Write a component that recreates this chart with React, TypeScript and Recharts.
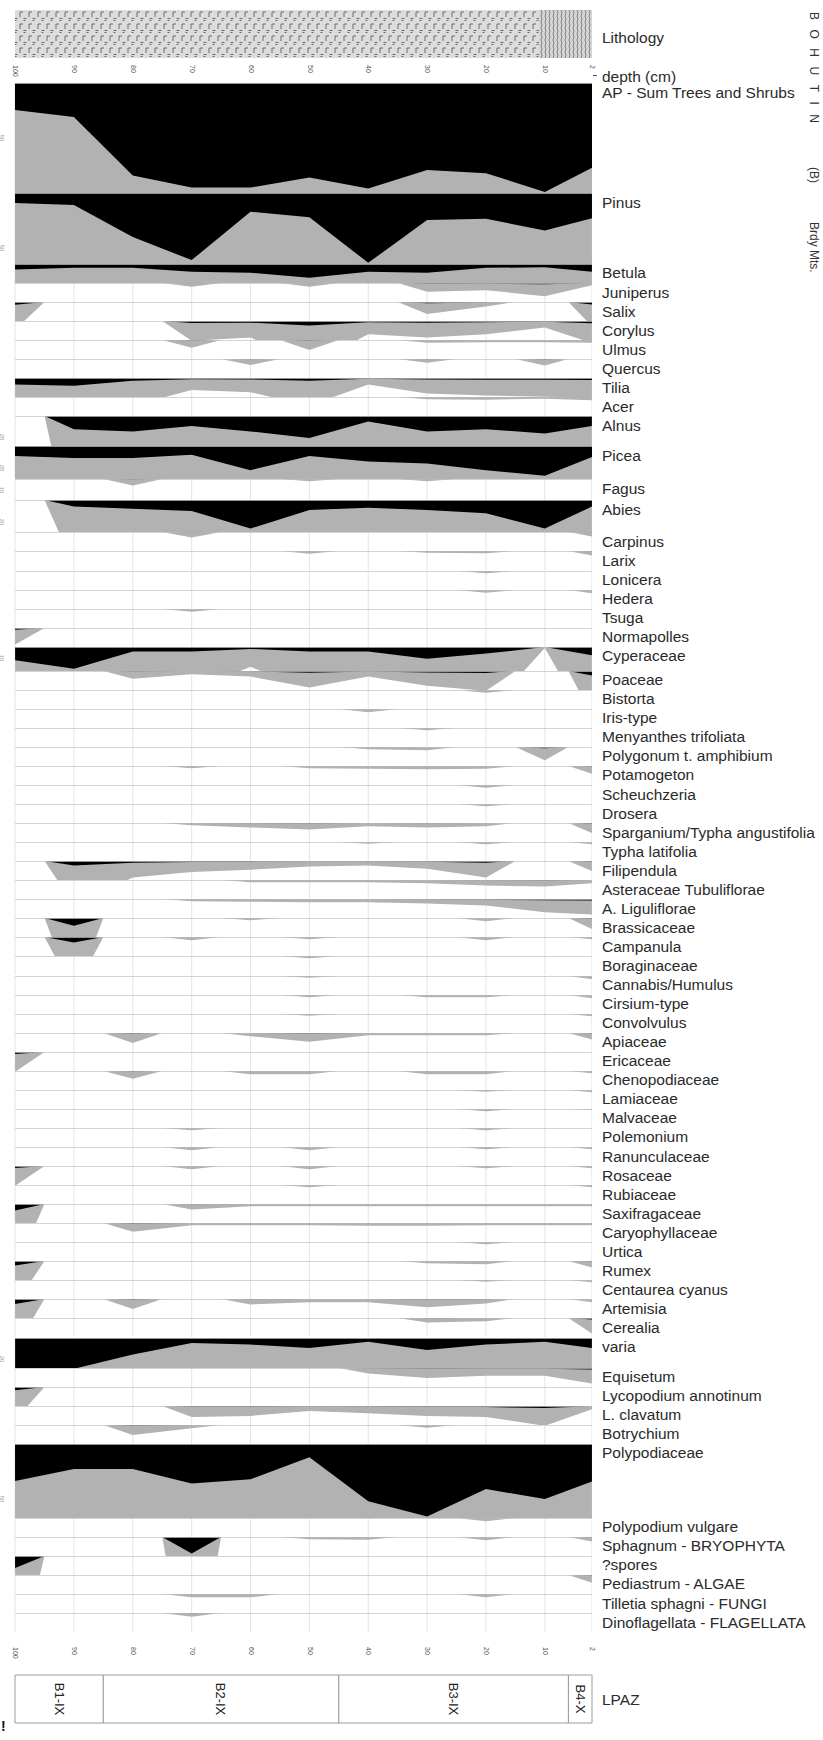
import React from "react";
import {
  AreaChart,
  Area,
  Line,
  ComposedChart,
  XAxis,
  YAxis,
  CartesianGrid,
  ReferenceLine,
  ReferenceArea,
  Label,
} from "recharts";

// sample depths (cm); deepest sample on the left
const DEPTHS = [100, 90, 80, 70, 60, 50, 40, 30, 20, 10, 2];

// percentages per sample, left to right
const AP_SUM = [24.5, 31, 84, 95, 95, 86, 96, 79, 82, 99, 77];
const PINUS = [9, 11, 40, 61, 17, 22, 63.5, 24.5, 23.5, 34, 23];
const BETULA = [5, 3.5, 3.5, 7, 8, 12.5, 7, 8, 3.5, 3, 7];
const JUNIPERUS = [0, 0, 0, 0.35, 0, 0.35, 0, 0.8, 0.65, 1.2, 0.2];
const SALIX = [2.5, 0, 0, 0, 0, 0, 0, 1.1, 0.4, 0, 2.2];
const CORYLUS = [0, 0, 0, 1.8, 1.5, 4, 1.2, 1.5, 1.2, 0.6, 2.0];
const ULMUS = [0, 0, 0, 0.7, 0, 0.9, 0, 0.25, 0.2, 0.2, 0.25];
const QUERCUS = [0, 0, 0, 0, 0.55, 0, 0, 0.35, 0, 0.6, 0];
const TILIA = [6, 7, 2.5, 1.1, 1.3, 2.5, 0.6, 1.4, 1.6, 1.7, 1.8];
const ACER = [0, 0, 0, 0, 0, 0, 0, 0.2, 0.25, 0.15, 0.3];
const ALNUS = [0, 12, 14, 9, 14, 20, 5, 14, 12, 16, 9];
const PICEA = [9, 11, 11, 8, 22, 9, 14, 16, 22, 27, 10];
const FAGUS = [0, 0, 0.6, 0, 0, 0.2, 0, 0.2, 0, 0, 0];
const ABIES = [0, 6, 8, 10, 26, 9, 7, 9, 12, 26, 6];
const CARPINUS = [0, 0, 0, 0.5, 0, 0, 0, 0, 0, 0, 0.4];
const LARIX = [0, 0, 0, 0, 0, 0.25, 0, 0.15, 0.2, 0, 0.4];
const LONICERA = [0, 0, 0, 0, 0, 0, 0, 0, 0.2, 0, 0];
const HEDERA = [0, 0, 0, 0, 0, 0, 0, 0, 0.25, 0, 0.3];
const TSUGA = [0, 0, 0, 0.25, 0, 0, 0, 0, 0, 0, 0];
const NORMAPOLLES = [1.5, 0, 0, 0, 0, 0, 0, 0, 0, 0, 0];
const CYPERACEAE = [12, 19.7, 4, 4, 1.8, 4, 4, 10.6, 6, 0.1, 7.5];
const POACEAE = [0, 0, 0.7, 0.3, 0.5, 1.5, 0.5, 1.35, 1.8, 0, 4];
const BISTORTA = [0, 0, 0, 0, 0, 0, 0, 0, 0.25, 0, 0];
const IRIS = [0, 0, 0, 0, 0, 0, 0.3, 0, 0, 0, 0];
const MENYANTHES = [0, 0, 0, 0, 0, 0, 0, 0.2, 0, 0, 0];
const POLYGONUM = [0, 0, 0, 0, 0, 0, 0.2, 0.3, 0, 1.2, 0];
const POTAMOGETON = [0, 0, 0, 0.2, 0, 0.2, 0.25, 0.3, 0.25, 0, 0.7];
const SCHEUCHZERIA = [0, 0, 0, 0, 0, 0, 0, 0, 0.25, 0, 0];
const DROSERA = [0, 0, 0, 0, 0, 0, 0, 0, 0.2, 0, 0];
const SPARGANIUM = [0, 0, 0, 0.2, 0.4, 0.6, 0.3, 0.4, 0.3, 0, 0.9];
const TYPHA_LAT = [0, 0, 0, 0, 0, 0, 0.15, 0, 0.2, 0, 0.2];
const FILIPENDULA = [0, 4, 1.5, 1, 0.8, 0.5, 0.4, 0.7, 1.5, 0, 0.9];
const ASTER_TUB = [0, 0, 0, 0, 0.2, 0.2, 0.2, 0.3, 0.5, 0.6, 0.3];
const ASTER_LIG = [0, 0, 0, 0.2, 0.25, 0.3, 0.3, 0.4, 0.6, 1.2, 1.4];
const BRASSICACEAE = [0, 7, 0, 0, 0.2, 0, 0, 0, 0.3, 0, 1.0];
const CAMPANULA = [0, 5, 0, 0.3, 0, 0.2, 0, 0, 0.3, 0, 0.2];
const BORAGINACEAE = [0, 0, 0, 0, 0, 0.2, 0, 0, 0, 0, 0];
const CANNABIS = [0, 0, 0, 0, 0, 0.15, 0, 0, 0, 0, 0.3];
const CIRSIUM = [0, 0, 0, 0, 0, 0.2, 0, 0.2, 0.2, 0, 0.3];
const CONVOLVULUS = [0, 0, 0, 0, 0, 0.15, 0, 0, 0, 0, 0.2];
const APIACEAE = [0, 0, 0.9, 0, 0.3, 0.8, 0.2, 0.2, 0.2, 0, 0.6];
const ERICACEAE = [1.8, 0, 0, 0, 0, 0, 0, 0, 0, 0, 0];
const CHENOPODIACEAE = [0, 0, 0.7, 0, 0.3, 0.3, 0, 0.3, 0.3, 0, 0.2];
const LAMIACEAE = [0, 0, 0, 0, 0, 0, 0, 0, 0.15, 0, 0.2];
const MALVACEAE = [0, 0, 0, 0, 0, 0, 0, 0, 0.2, 0, 0.1];
const POLEMONIUM = [0, 0, 0, 0.2, 0, 0, 0, 0, 0.2, 0, 0];
const RANUNCULACEAE = [0, 0, 0, 0.3, 0, 0.3, 0, 0, 0.2, 0, 0.2];
const ROSACEAE = [1.8, 0, 0, 0.3, 0, 0.3, 0, 0, 0.2, 0, 0.2];
const RUBIACEAE = [0, 0, 0, 0, 0, 0.2, 0, 0, 0, 0, 0.2];
const SAXIFRAGACEAE = [6, 0, 0, 0.5, 0.2, 0.2, 0.2, 0.2, 0.2, 0.2, 0.2];
const CARYOPHYLLACEAE = [0, 0, 0.8, 0.2, 0.2, 0.2, 0.25, 0.25, 0.2, 0.2, 0.2];
const URTICA = [0, 0, 0, 0, 0, 0, 0, 0, 0.2, 0, 0];
const RUMEX = [4, 0, 0, 0, 0, 0, 0, 0.2, 0.3, 0, 0.6];
const CENTAUREA = [0, 0, 0, 0, 0, 0, 0, 0, 0.15, 0, 0.2];
const ARTEMISIA = [4.5, 0, 0.9, 0, 0.5, 0.3, 0.3, 0.75, 0.4, 0, 0.3];
const CEREALIA = [0, 0, 0, 0, 0, 0, 0, 0.4, 0.3, 0, 1.4];
const VARIA = [28, 28, 15, 4.5, 6, 9, 3.5, 11, 6, 3.5, 9];
const EQUISETUM = [0, 0, 0, 0, 0, 0, 0.5, 0.9, 0.7, 0.7, 1.4];
const LYCO_ANNOTINUM = [3, 0, 0, 0, 0, 0, 0, 0, 0, 0, 0];
const LYCO_CLAVATUM = [0, 0, 0, 1.0, 0.9, 0.45, 0.65, 0.9, 1.0, 1.8, 0.3];
const BOTRYCHIUM = [0, 0, 0.9, 0.3, 0, 0, 0, 0.25, 0, 0, 0];
const POLYPODIACEAE = [33.6, 22.7, 22.7, 36, 32, 12, 52, 66, 41, 50, 34];
const POLYPODIUM = [0, 0, 0, 0, 0, 0, 0, 0, 0.3, 0, 0];
const SPHAGNUM = [0, 0, 0, 15, 0, 0.2, 0.25, 0, 0.3, 0, 0.4];
const SPORES = [11, 0, 0, 0, 0, 0, 0, 0, 0, 0, 0];
const PEDIASTRUM = [0, 0, 0, 0, 0, 0, 0, 0, 0, 0, 0.7];
const TILLETIA = [0, 0, 0, 0.3, 0.3, 0, 0, 0, 0.3, 0, 0];
const DINOFLAGELLATA = [0, 0, 0, 0.35, 0, 0, 0, 0, 0, 0, 0];

const TAXA: [string, number[]][] = [
  ["AP - Sum Trees and Shrubs", AP_SUM],
  ["Pinus", PINUS],
  ["Betula", BETULA],
  ["Juniperus", JUNIPERUS],
  ["Salix", SALIX],
  ["Corylus", CORYLUS],
  ["Ulmus", ULMUS],
  ["Quercus", QUERCUS],
  ["Tilia", TILIA],
  ["Acer", ACER],
  ["Alnus", ALNUS],
  ["Picea", PICEA],
  ["Fagus", FAGUS],
  ["Abies", ABIES],
  ["Carpinus", CARPINUS],
  ["Larix", LARIX],
  ["Lonicera", LONICERA],
  ["Hedera", HEDERA],
  ["Tsuga", TSUGA],
  ["Normapolles", NORMAPOLLES],
  ["Cyperaceae", CYPERACEAE],
  ["Poaceae", POACEAE],
  ["Bistorta", BISTORTA],
  ["Iris-type", IRIS],
  ["Menyanthes trifoliata", MENYANTHES],
  ["Polygonum t. amphibium", POLYGONUM],
  ["Potamogeton", POTAMOGETON],
  ["Scheuchzeria", SCHEUCHZERIA],
  ["Drosera", DROSERA],
  ["Sparganium/Typha angustifolia", SPARGANIUM],
  ["Typha latifolia", TYPHA_LAT],
  ["Filipendula", FILIPENDULA],
  ["Asteraceae Tubuliflorae", ASTER_TUB],
  ["A. Liguliflorae", ASTER_LIG],
  ["Brassicaceae", BRASSICACEAE],
  ["Campanula", CAMPANULA],
  ["Boraginaceae", BORAGINACEAE],
  ["Cannabis/Humulus", CANNABIS],
  ["Cirsium-type", CIRSIUM],
  ["Convolvulus", CONVOLVULUS],
  ["Apiaceae", APIACEAE],
  ["Ericaceae", ERICACEAE],
  ["Chenopodiaceae", CHENOPODIACEAE],
  ["Lamiaceae", LAMIACEAE],
  ["Malvaceae", MALVACEAE],
  ["Polemonium", POLEMONIUM],
  ["Ranunculaceae", RANUNCULACEAE],
  ["Rosaceae", ROSACEAE],
  ["Rubiaceae", RUBIACEAE],
  ["Saxifragaceae", SAXIFRAGACEAE],
  ["Caryophyllaceae", CARYOPHYLLACEAE],
  ["Urtica", URTICA],
  ["Rumex", RUMEX],
  ["Centaurea cyanus", CENTAUREA],
  ["Artemisia", ARTEMISIA],
  ["Cerealia", CEREALIA],
  ["varia", VARIA],
  ["Equisetum", EQUISETUM],
  ["Lycopodium annotinum", LYCO_ANNOTINUM],
  ["L. clavatum", LYCO_CLAVATUM],
  ["Botrychium", BOTRYCHIUM],
  ["Polypodiaceae", POLYPODIACEAE],
  ["Polypodium vulgare", POLYPODIUM],
  ["Sphagnum - BRYOPHYTA", SPHAGNUM],
  ["?spores", SPORES],
  ["Pediastrum - ALGAE", PEDIASTRUM],
  ["Tilletia sphagni - FUNGI", TILLETIA],
  ["Dinoflagellata - FLAGELLATA", DINOFLAGELLATA],
];

// lithology units and pollen zones (depth boundaries)
const LITHO_BOUNDS = [100, 11, 2];
const LITHO_FILL = ["url(#peat)", "url(#gyttja)"];
const ZONE_NAMES = ["B1-IX", "B2-IX", "B3-IX", "B4-X"];
const ZONE_BOUNDS = [100, 85, 45, 6, 2];

// scale (axis maximum, %) of the wider curves; the rest use SMALL_MAX
const ROW_MAX: Record<string, number> = {
  "AP - Sum Trees and Shrubs": 100,
  Pinus: 64.5,
  Alnus: 27.3,
  Picea: 30,
  Fagus: 19.1,
  Abies: 29.1,
  Cyperaceae: 21.8,
  varia: 27.3,
  Polypodiaceae: 67.3,
};
const SMALL_MAX = 17.32;
const PX = 1.1; // px per percent
const EXAG = 10;
const TOP = 83;
const PLOT_W = 592;
const AXIS_W = 15;
const FONT = "'Liberation Sans', Arial, sans-serif";

// curve closes halfway to a neighbouring empty sample
function silhouette(values: number[]) {
  const rows: { depth: number; v: number; ex: number }[] = [];
  values.forEach((v, i) => {
    if (i > 0 && (values[i - 1] === 0) !== (v === 0)) {
      rows.push({ depth: (DEPTHS[i - 1] + DEPTHS[i]) / 2, v: 0, ex: 0 });
    }
    rows.push({ depth: DEPTHS[i], v, ex: v * EXAG });
  });
  return rows;
}

// flat table used by the band strips (lithology, zones)
const bandData = DEPTHS.map((d) => ({ depth: d, band: 1 }));

const ScaleTick = (props: any) => {
  const { x, y, payload } = props;
  const tx = x - 7;
  return (
    <text x={tx} y={y} fontSize={6} fill="#9a9a9a" textAnchor="middle" transform={`rotate(90 ${tx} ${y})`} fontFamily={FONT}>
      {payload.value}
    </text>
  );
};

const DepthTick = (props: any) => {
  const { x, y, payload } = props;
  return (
    <text x={x} y={y + 1} fontSize={7} fill="#555" dominantBaseline="middle" transform={`rotate(90 ${x} ${y + 1})`} fontFamily={FONT}>
      {payload.value}
    </text>
  );
};

const TaxonRow = ({ values, max }: { values: number[]; max: number }) => {
  const tick = max >= 50 ? 50 : max >= 25 ? 20 : 10;
  return (
    <AreaChart width={PLOT_W} height={max * PX} data={silhouette(values)} margin={{ top: 0, right: 0, bottom: 0, left: 0 }}>
      <CartesianGrid horizontal={false} stroke="#e4e4e4" />
      <XAxis type="number" dataKey="depth" domain={[2, 100]} reversed ticks={DEPTHS} hide />
      <YAxis
        type="number"
        domain={[0, max]}
        reversed
        allowDataOverflow
        width={AXIS_W}
        ticks={[tick]}
        tick={<ScaleTick />}
        axisLine={false}
        tickLine={false}
      />
      <Area type="linear" dataKey="ex" baseValue={0} fill="#b2b2b2" fillOpacity={1} stroke="none" isAnimationActive={false} />
      <Area type="linear" dataKey="v" baseValue={0} fill="#000" fillOpacity={1} stroke="none" isAnimationActive={false} />
      <ReferenceLine y={0} stroke="#c6c6c6" strokeWidth={1.5} />
    </AreaChart>
  );
};

const DepthScale = () => (
  <ComposedChart width={PLOT_W + 10} height={24} data={bandData} margin={{ top: 0, right: 10, bottom: 0, left: AXIS_W }}>
    <XAxis
      type="number"
      dataKey="depth"
      domain={[2, 100]}
      reversed
      ticks={DEPTHS}
      height={20}
      axisLine={false}
      tickLine={false}
      tickSize={0}
      tickMargin={0}
      tick={<DepthTick />}
      interval={0}
    />
    <YAxis hide />
  </ComposedChart>
);

const Lithology = () => (
  <ComposedChart width={PLOT_W} height={48} data={bandData} margin={{ top: 0, right: 0, bottom: 0, left: AXIS_W }}>
    <defs>
      <pattern id="peat" width="9" height="12" patternUnits="userSpaceOnUse">
        <rect width="9" height="12" fill="#dcdcdc" />
        <path d="M2 2 v5 M2 2 h3 M5.5 8.5 h3 M5.5 10.5 h2" stroke="#5c5c5c" strokeWidth="0.9" fill="none" />
      </pattern>
      <pattern id="gyttja" width="4" height="6" patternUnits="userSpaceOnUse">
        <rect width="4" height="6" fill="#d6d6d6" />
        <path d="M1 0 q2 3 0 6" stroke="#6a6a6a" strokeWidth="0.8" fill="none" />
      </pattern>
    </defs>
    <XAxis type="number" dataKey="depth" domain={[2, 100]} reversed hide />
    <YAxis type="number" domain={[0, 1]} allowDataOverflow hide />
    <Line dataKey="band" stroke="none" dot={false} activeDot={false} isAnimationActive={false} />
    {LITHO_FILL.map((fill, i) => (
      <ReferenceArea key={i} x1={LITHO_BOUNDS[i]} x2={LITHO_BOUNDS[i + 1]} y1={0} y2={1} fill={fill} fillOpacity={1} stroke="none" ifOverflow="visible" />
    ))}
  </ComposedChart>
);

const Zones = () => (
  <ComposedChart width={PLOT_W + 1} height={50} data={bandData} margin={{ top: 1, right: 1, bottom: 1, left: AXIS_W }}>
    <XAxis type="number" dataKey="depth" domain={[2, 100]} reversed hide />
    <YAxis type="number" domain={[0, 1]} allowDataOverflow hide />
    <Line dataKey="band" stroke="none" dot={false} activeDot={false} isAnimationActive={false} />
    {ZONE_NAMES.map((name, i) => (
      <ReferenceArea
        key={name}
        x1={ZONE_BOUNDS[i]}
        x2={ZONE_BOUNDS[i + 1]}
        y1={0}
        y2={1}
        fill="#fff"
        fillOpacity={1}
        stroke="#9c9c9c"
        strokeWidth={1}
        ifOverflow="visible"
      >
        <Label value={name} angle={90} position="center" fontSize={13} fill="#222" fontFamily={FONT} />
      </ReferenceArea>
    ))}
  </ComposedChart>
);

const labelStyle: React.CSSProperties = {
  position: "absolute",
  left: 602,
  fontFamily: FONT,
  fontSize: 15.5,
  lineHeight: "16px",
  color: "#2a2a2a",
  whiteSpace: "nowrap",
};

const vertical: React.CSSProperties = {
  position: "absolute",
  writingMode: "vertical-rl",
  fontFamily: FONT,
  fontSize: 12,
  lineHeight: "12px",
  color: "#333",
  whiteSpace: "nowrap",
};

export default function App() {
  let top = TOP;
  const rows = TAXA.map(([name, values]) => {
    const max = ROW_MAX[name] ?? SMALL_MAX;
    const row = { name, values, max, top };
    top += max * PX;
    return row;
  });
  const bottom = top;

  return (
    <div style={{ position: "absolute", left: 0, top: 0, width: 823, height: 1740, background: "#fff", overflow: "hidden" }}>
      <div style={{ position: "absolute", left: 0, top: 10 }}>
        <Lithology />
      </div>
      <div style={{ ...labelStyle, top: 30 }}>Lithology</div>
      <div style={{ position: "absolute", left: 0, top: 60 }}>
        <DepthScale />
      </div>
      <div style={{ position: "absolute", left: 593, top: 75, width: 4, height: 1, background: "#555" }} />
      <div style={{ ...labelStyle, top: 69 }}>depth (cm)</div>

      {rows.map((r) => (
        <React.Fragment key={r.name}>
          <div style={{ position: "absolute", left: 0, top: r.top }}>
            <TaxonRow values={r.values} max={r.max} />
          </div>
          <div style={{ ...labelStyle, top: r.top + 1.5 }}>{r.name}</div>
        </React.Fragment>
      ))}

      <div style={{ position: "absolute", left: 0, top: bottom + 10 }}>
        <DepthScale />
      </div>
      <div style={{ position: "absolute", left: 0, top: 1674 }}>
        <Zones />
      </div>
      <div style={{ ...labelStyle, top: 1692 }}>LPAZ</div>

      <div style={{ ...vertical, left: 808, top: 12, letterSpacing: 9.5 }}>BOHUTIN</div>
      <div style={{ ...vertical, left: 808, top: 167 }}>(B)</div>
      <div style={{ ...vertical, left: 808, top: 222 }}>Brdy Mts.</div>
      <div style={{ position: "absolute", left: 1, top: 1718, fontFamily: FONT, fontSize: 14, fontWeight: 700, color: "#111" }}>!</div>
    </div>
  );
}
